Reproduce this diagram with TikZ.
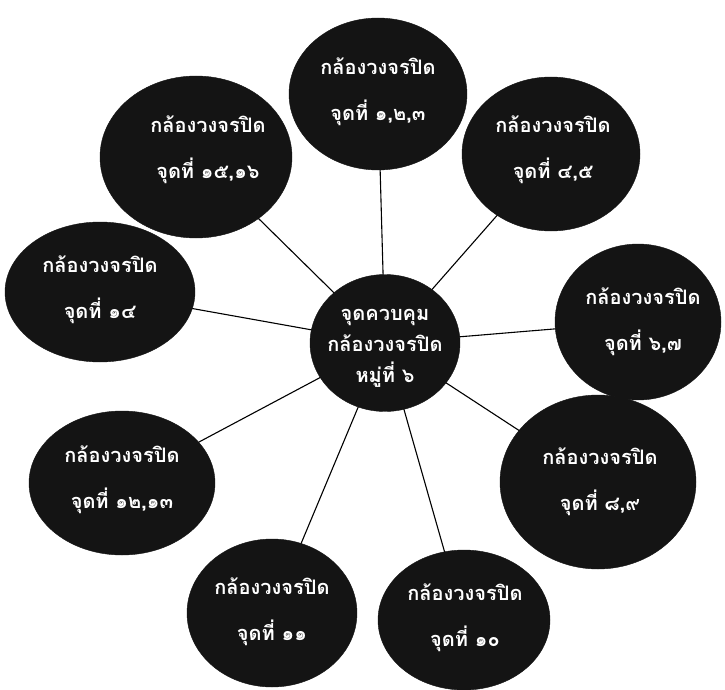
\documentclass[tikz,border=0pt]{standalone}
\usepackage{fontspec}
\newfontfamily\thaifont[Script=Thai]{Loma}
\usetikzlibrary{shapes.geometric,backgrounds}
\definecolor{ink}{HTML}{141414}
\tikzset{
  cam/.style={ellipse, fill=ink, draw=ink, inner sep=0pt},
  txt/.style={text=white, align=center, inner sep=0pt,
    font={\thaifont\bfseries\fontsize{20}{46}\selectfont}},
  ctxt/.style={text=white, align=center, inner sep=0pt,
    font={\thaifont\bfseries\fontsize{20}{31}\selectfont}},
  link/.style={draw=black, line width=1.1pt}
}
\begin{document}
\begin{tikzpicture}[x=1pt,y=-1pt]
\useasboundingbox (0,0) rectangle (725,690);
% ellipses
\node[cam, minimum width=150pt, minimum height=137pt] (c) at (385,343) {};
\node[cam, minimum width=178pt, minimum height=152pt] (n1) at (378,94) {};
\node[cam, minimum width=178pt, minimum height=154pt] (n2) at (551,154) {};
\node[cam, minimum width=166pt, minimum height=156pt] (n3) at (638,322) {};
\node[cam, minimum width=196pt, minimum height=174pt] (n4) at (598,482) {};
\node[cam, minimum width=172pt, minimum height=140pt] (n5) at (464,620) {};
\node[cam, minimum width=170pt, minimum height=148pt] (n6) at (272,613) {};
\node[cam, minimum width=186pt, minimum height=144pt] (n7) at (122,483) {};
\node[cam, minimum width=190pt, minimum height=140pt] (n8) at (100,292) {};
\node[cam, minimum width=192pt, minimum height=162pt] (n9) at (196,157) {};
% connectors
\begin{pgfonlayer}{background}
\foreach \n in {n1,n2,n3,n4,n5,n6,n7,n8,n9}
  \draw[link] (c.center) -- (\n.center);
\end{pgfonlayer}
% texts
\node[ctxt] (tc) at (385,348) {จุดควบคุม\\กล้องวงจรปิด\\หมู่ที่ ๖};
\node[txt] (t1) at (378,92) {กล้องวงจรปิด\\จุดที่ ๑,๒,๓};
\node[txt] (t2) at (553,150) {กล้องวงจรปิด\\จุดที่ ๔,๕};
\node[txt] (t3) at (643,322) {กล้องวงจรปิด\\จุดที่ ๖,๗};
\node[txt] (t4) at (600,482) {กล้องวงจรปิด\\จุดที่ ๘,๙};
\node[txt] (t5) at (465,618) {กล้องวงจรปิด\\จุดที่ ๑๐};
\node[txt] (t6) at (272,612) {กล้องวงจรปิด\\จุดที่ ๑๑};
\node[txt] (t7) at (122,480) {กล้องวงจรปิด\\จุดที่ ๑๒,๑๓};
\node[txt] (t8) at (100,290) {กล้องวงจรปิด\\จุดที่ ๑๔};
\node[txt] (t9) at (208,150) {กล้องวงจรปิด\\จุดที่ ๑๕,๑๖};
\end{tikzpicture}
\end{document}
